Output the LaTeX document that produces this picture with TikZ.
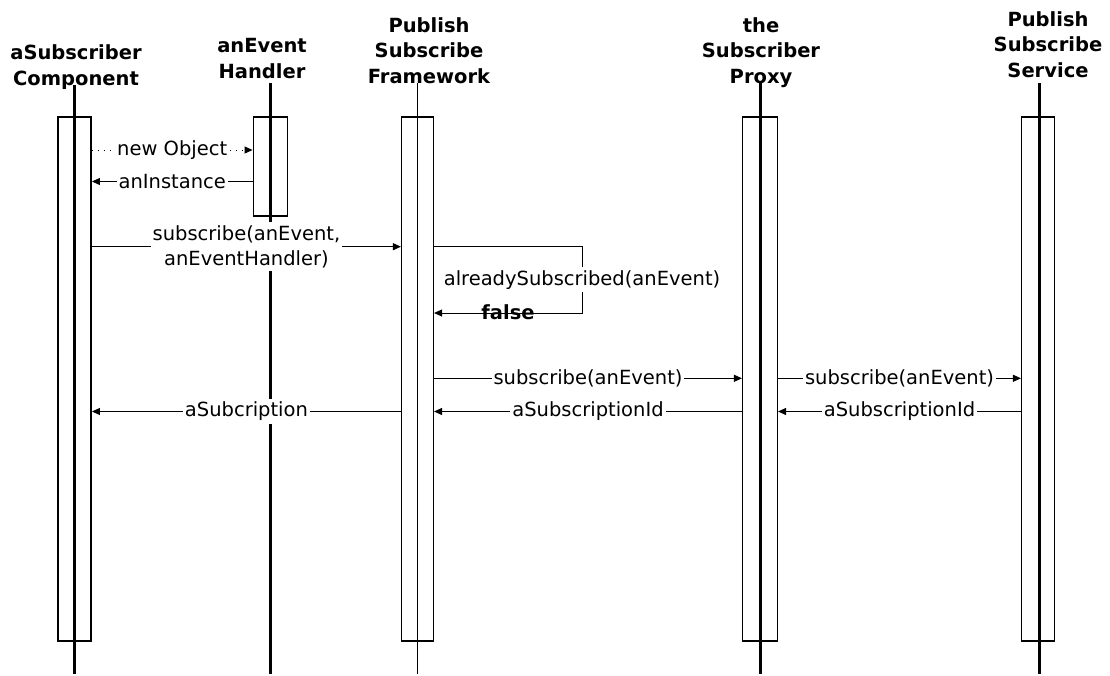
\documentclass[tikz,border=0pt]{standalone}
\usepackage{fontspec}
\setmainfont{DejaVu Sans}
\usetikzlibrary{arrows.meta}
\begin{document}
\begin{tikzpicture}[x=1pt,y=-1pt,
  head/.style={align=center, anchor=base, inner sep=0pt,
    font=\fontsize{19.5}{25.5}\selectfont\bfseries},
  life/.style={line width=3pt},
  lifethin/.style={line width=1.3pt},
  act/.style={draw, line width=1.5pt, minimum width=33pt, minimum height=524pt,
    anchor=north, inner sep=0pt},
  msg/.style={line width=1pt, -{Triangle[length=8pt,width=7pt]}},
  create/.style={msg, dash pattern=on 1pt off 5pt},
  lbl/.style={fill=white, inner xsep=2pt, inner ysep=3pt,
    font=\fontsize{19.5}{25.5}\selectfont},
]
\useasboundingbox (0,0) rectangle (1110,675);

% object headers (anchored on the baseline of their last line)
\node[head] (h1) at (76,85) {aSubscriber\\Component};
\node[head] (h2) at (262,78) {anEvent\\Handler};
\node[head] (h3) at (429,83) {Publish\\Subscribe\\Framework};
\node[head] (h4) at (761,83) {the\\Subscriber\\Proxy};
\node[head] (h5) at (1048,77) {Publish\\Subscribe\\Service};

% lifelines
\foreach \n/\x/\t in {1/74/85, 2/270.3/83, 3/417.5/83, 4/760.5/83, 5/1039.5/83}{
  \coordinate (top\n) at (\x,\t);
  \coordinate (end\n) at (\x,674);
}
\draw[life] (top1) -- (end1);
\draw[life] (top2) -- (end2);
\draw[lifethin] (top3) -- (end3);
\draw[life] (top4) -- (end4);
\draw[life] (top5) -- (end5);

% activation bars
\node[act] (act1) at (74.7,116) {};
\node[act, minimum width=34pt, minimum height=99pt] (act2) at (270.3,116) {};
\node[act, minimum width=31.6pt] (act3) at (417.5,116) {};
\node[act, minimum width=34.6pt] (act4) at (760,116) {};
\node[act, minimum width=32.6pt] (act5) at (1038,116) {};

% creation of the handler
\draw[create] (act1.east |- 0,150) -- node[lbl] {new Object} (act2.west |- 0,150);
\draw[msg] (act2.west |- 0,181.5) -- node[lbl] {anInstance} (act1.east |- 0,181.5);

% subscription request
\draw[msg] (act1.east |- 0,246.7) --
  node[lbl, align=center] {subscribe(anEvent,\\anEventHandler)} (act3.west |- 0,246.7);

% self call on the framework
\coordinate (selfA) at (582,246.7);
\coordinate (selfB) at (582,313);
\node[font=\fontsize{19.5}{25.5}\selectfont\bfseries, inner sep=0pt] (false) at (508,312) {false};
\draw[msg] (act3.east |- selfA) -- (selfA)
  -- node[lbl] {alreadySubscribed(anEvent)} (selfB) -- (act3.east |- selfB);

% forwarding to the service
\draw[msg] (act3.east |- 0,378.3) -- node[lbl] {subscribe(anEvent)} (act4.west |- 0,378.3);
\draw[msg] (act4.east |- 0,378.3) -- node[lbl] {subscribe(anEvent)} (act5.west |- 0,378.3);

% returns
\draw[msg] (act5.west |- 0,411.5) -- node[lbl] {aSubscriptionId\ } (act4.east |- 0,411.5);
\draw[msg] (act4.west |- 0,411.5) -- node[lbl] {aSubscriptionId\ } (act3.east |- 0,411.5);
\draw[msg] (act3.west |- 0,411.5) -- node[lbl] {aSubcription} (act1.east |- 0,411.5);
\end{tikzpicture}
\end{document}
